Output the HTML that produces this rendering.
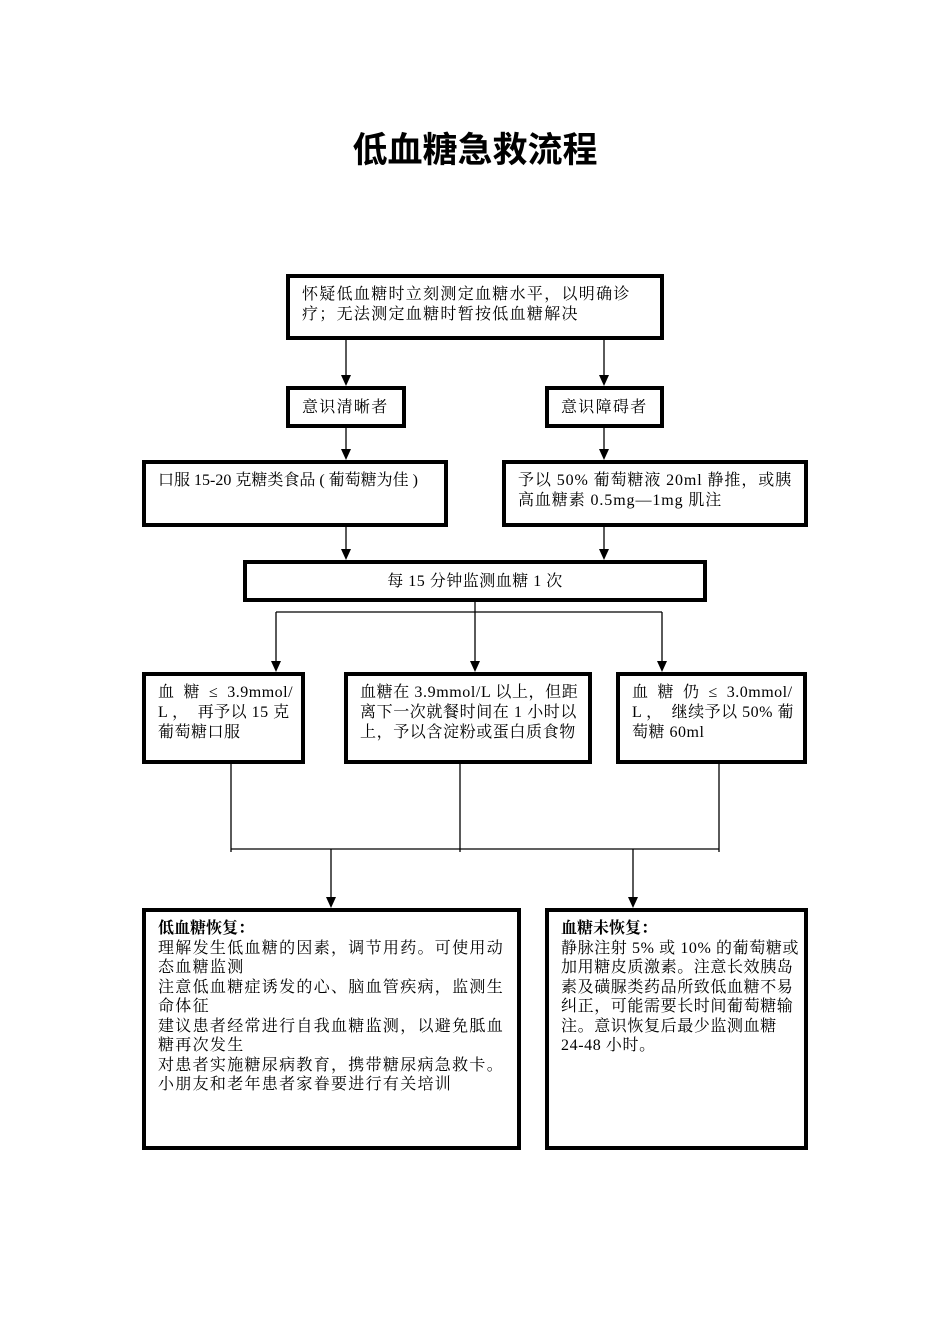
<!DOCTYPE html>
<html><head><meta charset="utf-8"><style>
body{margin:0;width:950px;height:1344px;background:#fff;position:relative;font-family:"Liberation Serif","Noto Serif CJK SC","Noto Sans CJK SC",serif;color:#000}
.b{position:absolute;border:4px solid #000;box-sizing:border-box;font-size:16px;line-height:20px;padding:7px 12px;white-space:nowrap;letter-spacing:1.3px}
.t{position:absolute;left:0;width:950px;top:128px;text-align:center;font-family:"Liberation Sans","Noto Sans CJK SC",sans-serif;font-weight:bold;font-size:35px;line-height:45px}
svg{position:absolute;left:0;top:0}
</style></head><body>
<div class="t">低血糖急救流程</div>
<svg width="950" height="1344">
<g stroke="#000" stroke-width="1.3" fill="none">
<line x1="346" y1="339" x2="346" y2="380"/>
<line x1="604" y1="339" x2="604" y2="380"/>
<line x1="346" y1="427" x2="346" y2="454"/>
<line x1="604" y1="427" x2="604" y2="454"/>
<line x1="346" y1="526" x2="346" y2="554"/>
<line x1="604" y1="526" x2="604" y2="554"/>
<line x1="276" y1="612" x2="662" y2="612"/>
<line x1="276" y1="612" x2="276" y2="666"/>
<line x1="475" y1="601" x2="475" y2="666"/>
<line x1="662" y1="612" x2="662" y2="666"/>
<line x1="231" y1="763" x2="231" y2="852"/>
<line x1="460" y1="763" x2="460" y2="852"/>
<line x1="719" y1="763" x2="719" y2="852"/>
<line x1="231" y1="849" x2="719" y2="849"/>
<line x1="331" y1="849" x2="331" y2="902"/>
<line x1="633" y1="849" x2="633" y2="902"/>
</g>
<g fill="#000">
<polygon points="341,375 351,375 346,386"/>
<polygon points="599,375 609,375 604,386"/>
<polygon points="341,449 351,449 346,460"/>
<polygon points="599,449 609,449 604,460"/>
<polygon points="341,549 351,549 346,560"/>
<polygon points="599,549 609,549 604,560"/>
<polygon points="271,661 281,661 276,672"/>
<polygon points="470,661 480,661 475,672"/>
<polygon points="657,661 667,661 662,672"/>
<polygon points="326,897 336,897 331,908"/>
<polygon points="628,897 638,897 633,908"/>
</g></svg>
<div class="b" style="left:286px;top:274px;width:378px;height:66px">怀疑低血糖时立刻测定血糖水平，以明确诊<br>疗；无法测定血糖时暂按低血糖解决</div>
<div class="b" style="left:286px;top:386px;width:120px;height:42px;padding-top:8px">意识清晰者</div>
<div class="b" style="left:545px;top:386px;width:119px;height:42px;padding-top:8px">意识障碍者</div>
<div class="b" style="left:142px;top:460px;width:306px;height:67px;letter-spacing:0">口服 15-20 克糖类食品 ( 葡萄糖为佳 )</div>
<div class="b" style="left:502px;top:460px;width:306px;height:67px;letter-spacing:0.9px">予以 50% 葡萄糖液 20ml 静推，或胰<br>高血糖素 0.5mg—1mg 肌注</div>
<div class="b" style="left:243px;top:560px;width:464px;height:42px;text-align:center;padding-top:8px;letter-spacing:0.5px">每 15 分钟监测血糖 1 次</div>
<div class="b" style="left:142px;top:672px;width:163px;height:92px;letter-spacing:0.5px">血&nbsp; 糖&nbsp; ≤&nbsp; 3.9mmol/<br>L ，&nbsp; 再予以 15 克<br>葡萄糖口服</div>
<div class="b" style="left:344px;top:672px;width:248px;height:92px;letter-spacing:0.6px">血糖在 3.9mmol/L 以上，但距<br>离下一次就餐时间在 1 小时以<br>上，予以含淀粉或蛋白质食物</div>
<div class="b" style="left:616px;top:672px;width:191px;height:92px;letter-spacing:0.5px">血&nbsp; 糖&nbsp; 仍&nbsp; ≤&nbsp; 3.0mmol/<br>L ，&nbsp; 继续予以 50% 葡<br>萄糖 60ml</div>
<div class="b" style="left:142px;top:908px;width:379px;height:242px;line-height:19.5px"><b style="letter-spacing:0">低血糖恢复：</b><br>理解发生低血糖的因素，调节用药。可使用动<br>态血糖监测<br>注意低血糖症诱发的心、脑血管疾病，监测生<br>命体征<br>建议患者经常进行自我血糖监测，以避免胝血<br>糖再次发生<br>对患者实施糖尿病教育，携带糖尿病急救卡。<br>小朋友和老年患者家眷要进行有关培训</div>
<div class="b" style="left:545px;top:908px;width:263px;height:242px;line-height:19.5px;letter-spacing:0.6px"><b style="letter-spacing:0">血糖未恢复：</b><br>静脉注射 5% 或 10% 的葡萄糖或<br>加用糖皮质激素。注意长效胰岛<br>素及磺脲类药品所致低血糖不易<br>纠正，可能需要长时间葡萄糖输<br>注。意识恢复后最少监测血糖<br>24-48 小时。</div>
</body></html>
